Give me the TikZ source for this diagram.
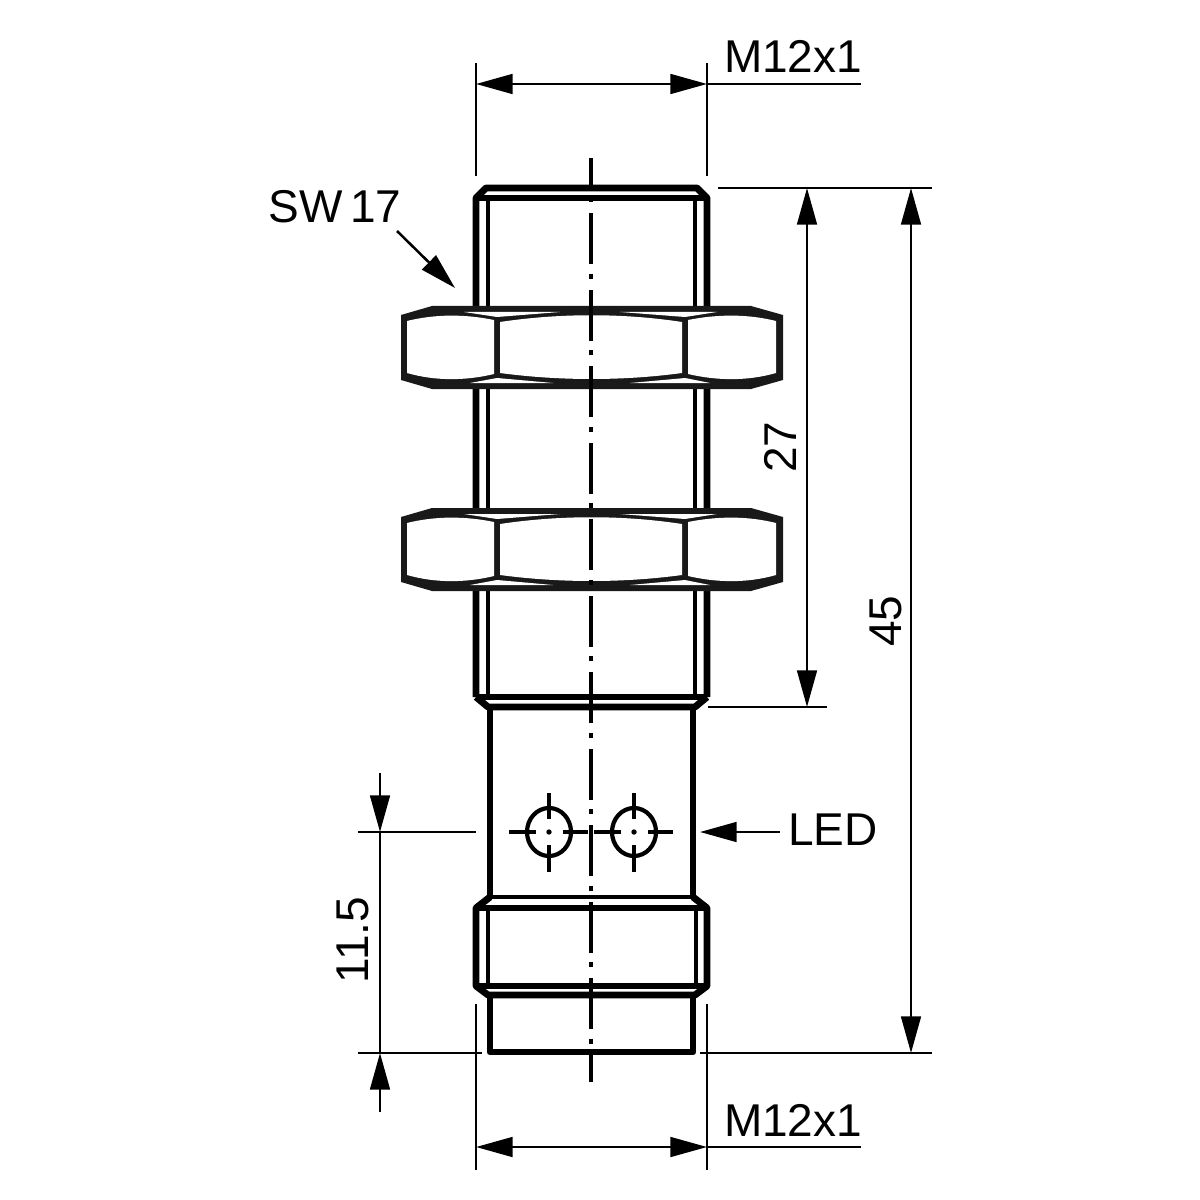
\documentclass[tikz,border=0pt]{standalone}
\usepackage{fontspec}
\setmainfont{Liberation Sans}
\usetikzlibrary{arrows.meta}
\tikzset{
    heavy/.style={line width=4.9pt,line join=round},
    medium/.style={line width=3.1pt,line join=round},
    fine/.style={line width=2.4pt},
    axis/.style={line width=2.5pt,dash pattern=on 36pt off 6.9pt on 3.6pt off 7.9pt,dash phase=15pt},
    dim/.style={line width=1.8pt},
    tip/.style={-{Triangle[length=26pt,width=14pt]}},
    bothtips/.style={{Triangle[length=26pt,width=14pt]}-{Triangle[length=26pt,width=14pt]}},
    lbl/.style={font=\fontsize{32.7}{36}\selectfont,inner sep=0pt}
}
\begin{document}
\begin{tikzpicture}[x=0.025cm,y=-0.025cm]
    \useasboundingbox (0,0) rectangle (1200,1200);

    % Gewinde oben
    \draw[heavy] (476,697) -- (476,198) -- (486,188) -- (697,188) -- (707,198) -- (707,697);
    \draw[heavy] (476,198) -- (707,198);
    \draw[medium] (488,198) -- (488,697);
    \draw[medium] (695,198) -- (695,697);

    % Hals und unteres Gewinde
    \draw[heavy] (476,697) -- (707,697);
    \draw[heavy] (476,697) -- (488,707) -- (695,707) -- (707,697);
    \draw[heavy] (490,707) -- (490,897);
    \draw[heavy] (693,707) -- (693,897);
    \draw[medium] (490,897) -- (693,897);
    \draw[heavy] (490,897) -- (476,908) -- (476,986) -- (488,995) -- (695,995) -- (707,986) -- (707,908) -- (693,897);
    \draw[heavy] (476,908) -- (707,908);
    \draw[heavy] (476,986) -- (707,986);
    \draw[medium] (488,908) -- (488,986);
    \draw[medium] (696,908) -- (696,986);

    % Spitze
    \draw[heavy] (490,995) -- (490,1052) -- (693,1052) -- (693,995);

    % Muttern
    \foreach \ny in {0,202} {
        \begin{scope}[shift={(0,\ny)}]
            \fill[black!90] (432,306) -- (751,306) -- (783,315) -- (783,380) -- (751,389)
                -- (432,389) -- (401,380) -- (401,315) -- cycle;
            \fill[white] (407,321) .. controls (435,314) and (465,314) .. (494,320)
                -- (494,374) .. controls (465,381) and (435,381) .. (407,373) -- cycle;
            \fill[white] (500,322) .. controls (560,313) and (623,313) .. (682,322)
                -- (682,373) .. controls (623,381) and (560,381) .. (500,373) -- cycle;
            \fill[white] (688,320) .. controls (718,314) and (748,314) .. (776,321)
                -- (776,373) .. controls (748,381) and (718,381) .. (688,374) -- cycle;
            \fill[white] (464,312) -- (560,312) -- (497,317) -- cycle;
            \fill[white] (620,312) -- (717,312) -- (685,317) -- cycle;
            \fill[white] (470,383) -- (553,383) -- (497,378) -- cycle;
            \fill[white] (630,383) -- (710,383) -- (685,378) -- cycle;
        \end{scope}
    }

    % Mittellinie
    \draw[axis] (591,158) -- (591,1082);

    % LED
    \foreach \cx in {549,634} {
        \draw[line width=3pt] (\cx,832) ellipse (22 and 24);
        \fill (\cx,832) circle (2.7);
        \draw[fine] (\cx-40,832) -- (\cx-13,832);
        \draw[fine] (\cx+14,832) -- (\cx+39,832);
        \draw[fine] (\cx,793) -- (\cx,819);
        \draw[fine] (\cx,845) -- (\cx,872);
    }

    % Masse oben
    \coordinate (ta) at (476,84);
    \coordinate (tb) at (707,84);
    \coordinate (tc) at (861,84);
    \draw[dim] (476,63) -- (476,176);
    \draw[dim] (707,63) -- (707,176);
    \draw[dim,bothtips] (ta) -- (tb);
    \draw[dim] (tb) -- (tc);
    \node[lbl] (mtop) at (793,56) {M12x1};

    % Masse unten
    \coordinate (ba) at (476,1147);
    \coordinate (bb) at (707,1147);
    \coordinate (bc) at (861,1147);
    \draw[dim] (476,1004) -- (476,1170);
    \draw[dim] (707,1004) -- (707,1170);
    \draw[dim,bothtips] (ba) -- (bb);
    \draw[dim] (bb) -- (bc);
    \node[lbl] (mbot) at (793,1120) {M12x1};

    % Masse rechts
    \coordinate (ra) at (807,188);
    \coordinate (rb) at (807,707);
    \coordinate (rc) at (911,188);
    \coordinate (rd) at (911,1053);
    \draw[dim] (718,188) -- (932,188);
    \draw[dim] (708,707) -- (827,707);
    \draw[dim] (700,1053) -- (932,1053);
    \draw[dim,bothtips] (ra) -- (rb);
    \draw[dim,bothtips] (rc) -- (rd);
    \node[lbl,rotate=90] (l27) at (780,447) {27};
    \node[lbl,rotate=90] (l45) at (886,621) {45};

    % Masse links
    \coordinate (la) at (380,773);
    \coordinate (lb) at (380,832);
    \coordinate (lc) at (380,1053);
    \coordinate (ld) at (380,1112);
    \draw[dim] (358,832) -- (476,832);
    \draw[dim] (358,1053) -- (482,1053);
    \draw[dim] (lb) -- (lc);
    \draw[dim,tip] (la) -- (lb);
    \draw[dim,tip] (ld) -- (lc);
    \node[lbl,rotate=90] (l115) at (353,940) {11.5};

    % Hinweise
    \node[lbl] (sw) at (335,207) {SW\,17};
    \coordinate (swa) at (397,231);
    \coordinate (swb) at (455,288);
    \draw[dim,tip] (swa) -- (swb);
    \node[lbl] (led) at (833,830) {LED};
    \coordinate (leda) at (780,832);
    \coordinate (ledb) at (700,832);
    \draw[dim,tip] (leda) -- (ledb);

\end{tikzpicture}
\end{document}
